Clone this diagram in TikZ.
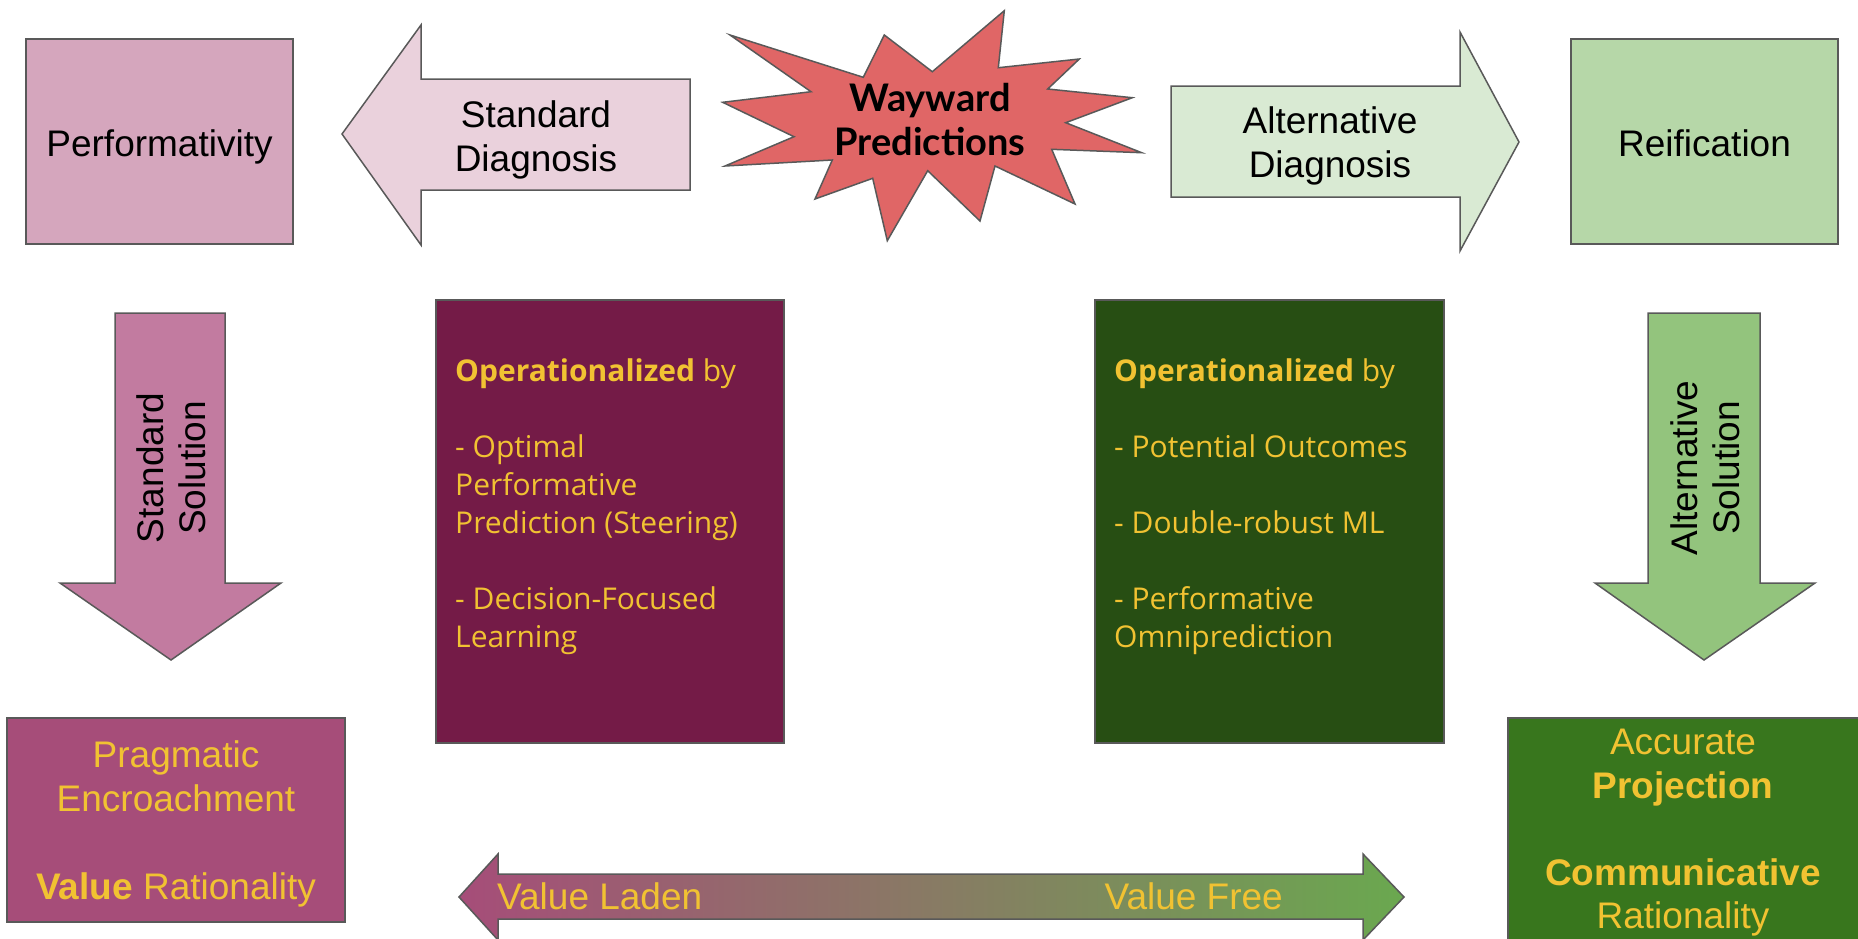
\documentclass[tikz,border=0pt]{standalone}
\usepackage{fontspec}
\setmainfont{Liberation Sans}
\newfontfamily\latofont{Lato}
\newfontfamily\bodyfont{Open Sans}
\definecolor{edgegray}{HTML}{595959}
\definecolor{pinklight}{HTML}{D5A6BD}
\definecolor{pinkpale}{HTML}{EAD1DC}
\definecolor{pinkmid}{HTML}{C27BA0}
\definecolor{pinkdeep}{HTML}{A64D79}
\definecolor{plum}{HTML}{741B47}
\definecolor{redburst}{HTML}{E06666}
\definecolor{greenpale}{HTML}{D9EAD3}
\definecolor{greenlight}{HTML}{B6D7A8}
\definecolor{greenmid}{HTML}{93C47D}
\definecolor{greendeep}{HTML}{38761D}
\definecolor{forest}{HTML}{274E13}
\definecolor{greenend}{HTML}{6AA84F}
\definecolor{gold}{HTML}{F1C232}
\begin{document}
\begin{tikzpicture}[x=1pt,y=-1pt,
  outline/.style={draw=edgegray, line width=1.5pt, line join=miter},
  bigtext/.style={font=\fontsize{37}{44}\selectfont, align=center, inner sep=0pt},
  listtext/.style={font=\bodyfont\fontsize{30}{38}\selectfont, align=left, inner sep=0pt, text=gold, anchor=north west},
  rectbox/.style={outline, rectangle, inner sep=0pt}]
\useasboundingbox (0,0) rectangle (1858,938);
\clip (0,0) rectangle (1858,938);

% top row: the two diagnoses and their targets
\node[rectbox, fill=pinklight, minimum width=267pt, minimum height=205pt] (perf) at (159.5,141.5) {};
\node[bigtext] (perftext) at (159.5,147) {Performativity};
\draw[outline, fill=pinkpale] (342,134) -- (421,25) -- (421,79) -- (690,79) -- (690,190) -- (421,190) -- (421,245) -- cycle;
\node[bigtext] (stddiag) at (536,140) {Standard\\Diagnosis};

\draw[outline, fill=redburst] (730,35) -- (863.3,77.3) -- (884.3,35) -- (932.3,71.7) -- (1004.3,10.7) -- (998.3,67.7)
  -- (1079.3,59) -- (1047.7,89) -- (1132.3,97.7) -- (1065.7,122.7) -- (1141.7,152.7) -- (1051.7,149.3)
  -- (1075,204) -- (995,166) -- (980,221) -- (927.7,170.7) -- (887.3,240.7) -- (872.7,178.3)
  -- (815,199) -- (832.3,160) -- (725,166) -- (794,136.7) -- (722.7,102.3) -- (811,91.7) -- cycle;
\node[font=\latofont\bfseries\fontsize{38}{44}\selectfont, align=center, inner sep=0pt] (wayward) at (930,120) {Wayward\\Predictions};

\draw[outline, fill=greenpale] (1171,86) -- (1460,86) -- (1460,32) -- (1519,142) -- (1460,251) -- (1460,197) -- (1171,197) -- cycle;
\node[bigtext] (altdiag) at (1330,146) {Alternative\\Diagnosis};
\node[rectbox, fill=greenlight, minimum width=267pt, minimum height=205pt] (reif) at (1704.5,141.5) {};
\node[bigtext] (reiftext) at (1704.5,143) {Reification};

% downward solution arrows
\draw[outline, fill=pinkmid] (115,313) -- (225,313) -- (225,583) -- (281,583) -- (171,660) -- (60,583) -- (115,583) -- cycle;
\node[bigtext, font=\fontsize{37}{42}\selectfont, rotate=90] (stdsol) at (171,468) {Standard\\Solution};
\draw[outline, fill=greenmid] (1648,313) -- (1760,313) -- (1760,583) -- (1815,583) -- (1704,660) -- (1595,583) -- (1648,583) -- cycle;
\node[bigtext, font=\fontsize{37}{42}\selectfont, rotate=90] (altsol) at (1705,468) {Alternative\\Solution};

% operationalization panels
\node[rectbox, fill=plum, minimum width=348pt, minimum height=443pt] (stdops) at (610,521.5) {};
\node[listtext] (stdlist) at (455,358) {\textbf{Operationalized} by\\[38pt]- Optimal\\Performative\\Prediction (Steering)\\[38pt]- Decision-Focused\\Learning};
\node[rectbox, fill=forest, minimum width=349pt, minimum height=443pt] (altops) at (1269.5,521.5) {};
\node[listtext] (altlist) at (1114,358) {\textbf{Operationalized} by\\[38pt]- Potential Outcomes\\[38pt]- Double-robust ML\\[38pt]- Performative\\Omniprediction};

% outcome boxes
\node[rectbox, fill=pinkdeep, minimum width=338pt, minimum height=204pt] (prag) at (176,820) {};
\node[bigtext, text=gold] (pragtext) at (176,824) {Pragmatic\\Encroachment\\[44pt]\textbf{Value} Rationality};
\node[rectbox, fill=greendeep, minimum width=370pt, minimum height=240pt] (accu) at (1693,838) {};
\node[bigtext, text=gold, font=\fontsize{37}{43.5}\selectfont] (accutext) at (1683,833) {Accurate\\\textbf{Projection}\\[43.5pt]\textbf{Communicative}\\Rationality};

% value spectrum
\draw[draw=edgegray, line width=1.5pt, left color=pinkdeep, right color=greenend]
  (459,897) -- (498,854) -- (498,874) -- (1363,874) -- (1363,854) -- (1404,897) -- (1363,940) -- (1363,919) -- (498,919) -- (498,940) -- cycle;
\node[font=\fontsize{37}{44}\selectfont, text=gold, anchor=base west, inner sep=0pt] (laden) at (497,909) {Value Laden};
\node[font=\fontsize{37}{44}\selectfont, text=gold, anchor=base east, inner sep=0pt] (free) at (1283,909) {Value Free};
\end{tikzpicture}
\end{document}
